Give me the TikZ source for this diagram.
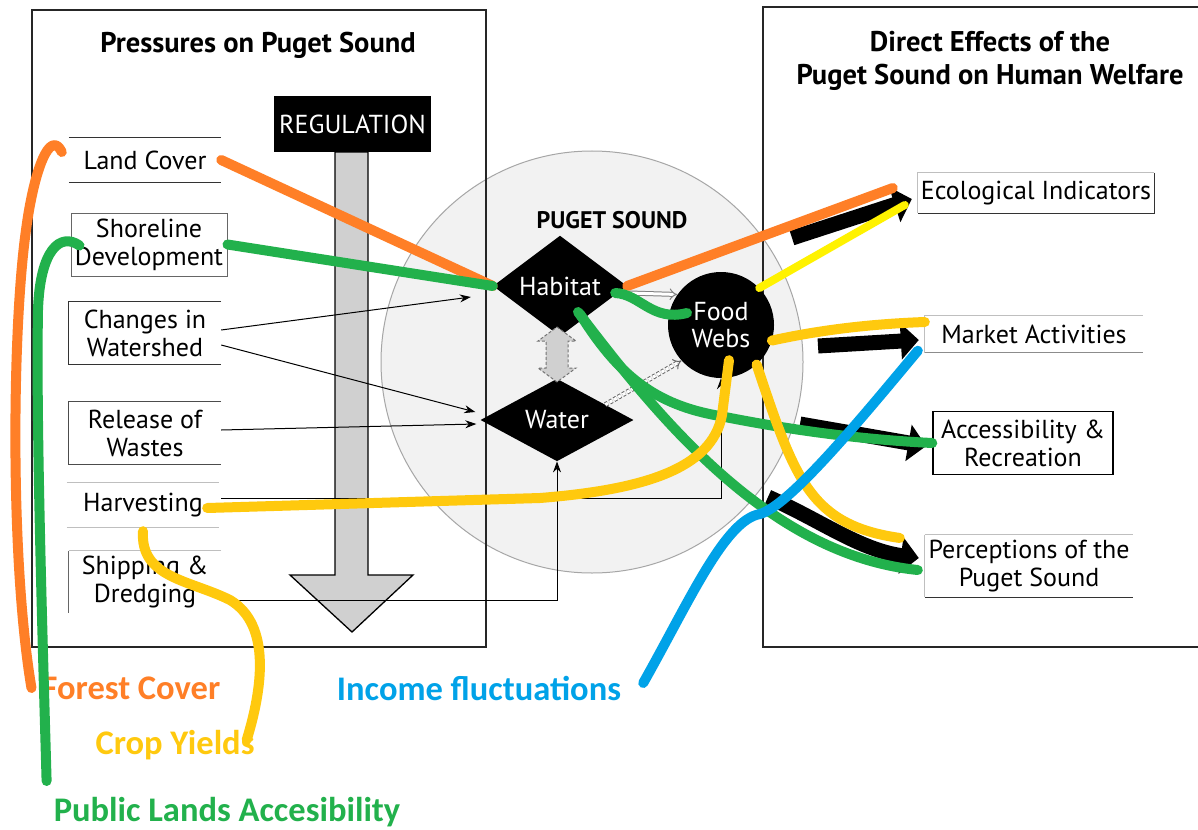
\documentclass[tikz,border=0pt]{standalone}
\usepackage{fontspec}
\setmainfont{PT Sans}
\newfontfamily\annfont{Carlito}
\usetikzlibrary{shapes.geometric,arrows.meta,calc}
\definecolor{mkorange}{RGB}{255,127,39}
\definecolor{mkgreen}{RGB}{34,177,76}
\definecolor{mkgold}{RGB}{255,201,14}
\definecolor{mkyellow}{RGB}{255,242,0}
\definecolor{mkblue}{RGB}{0,162,232}
\definecolor{soundfill}{RGB}{242,242,242}
\definecolor{regfill}{RGB}{208,208,208}
\begin{document}
\begin{tikzpicture}[x=1pt,y=-1pt,
  every node/.style={inner sep=0pt, align=center},
  txt/.style={font=\fontsize{26}{28}\selectfont},
  ttl/.style={font=\fontsize{28.5}{33}\selectfont\bfseries},
  ln/.style={draw=black!80, line width=1pt},
  lnf/.style={draw=black!25, line width=1pt},
  darkshape/.style={fill=black, text=white, txt},
  arr/.style={draw=black, line width=1pt, -{Stealth[length=11pt,width=8pt]}},
  bigarr/.style={draw=black, line width=15pt, -{Triangle[length=18pt,width=36pt]}},
  hl/.style={line width=10pt, line cap=round, line join=round},
  ann/.style={font=\annfont\bfseries\fontsize{34.5}{36}\selectfont},
]
\useasboundingbox (0,0) rectangle (1198,829);
\fill[white] (0,0) rectangle (1198,829);

% Puget Sound disc
\fill[soundfill] (592,362) circle[radius=211];
\draw[black!35, line width=1pt] (592,362) circle[radius=211];

% frames
\draw[black!85, line width=1.5pt] (32,10) rectangle (486,647);
\draw[black!85, line width=1.5pt] (1200,7) -- (763,7) -- (763,647) -- (1200,647);

% titles
\node[ttl] (ptitle) at (258,45) {Pressures on Puget Sound};
\node[ttl] (dtitle) at (990,61) {Direct Effects of the\\Puget Sound on Human Welfare};
\node[font=\fontsize{24}{26}\selectfont\bfseries] (pst) at (612,220) {PUGET SOUND};

% regulation arrow
\draw[black, line width=1.3pt, fill=regfill]
  (335,152) -- (335,575) -- (290,575) -- (352,632) -- (413,575) -- (368,575) -- (368,152) -- cycle;
\node[darkshape, minimum width=157pt, minimum height=56pt] (reg) at (352.5,124) {REGULATION};

% pressure items
\node[txt, minimum width=152pt, minimum height=45pt] (lc) at (145,160) {Land Cover};
\draw[ln] (lc.north west) -- (lc.north east) (lc.south west) -- (lc.south east);
\node[txt, draw=black!60, line width=1pt, minimum width=156pt, minimum height=63pt] (sd) at (149,244.5) {Shoreline\\Development};
\node[txt, minimum width=152pt, minimum height=62pt] (cw) at (145,333) {Changes in\\Watershed};
\draw[ln] (cw.north east) -- (cw.north west) -- (cw.south west) -- (cw.south east);
\node[txt, minimum width=152pt, minimum height=62pt] (rw) at (145,433) {Release of\\Wastes};
\draw[ln, draw=black!70] (rw.north east) -- (rw.north west) -- (rw.south west) -- (rw.south east);
\node[txt, minimum width=152pt, minimum height=44pt] (hv) at (143,505) {Harvesting};
\draw[lnf] (hv.north west) -- (hv.north east) (hv.south west) -- (hv.south east);
\node[txt, minimum width=152pt, minimum height=62pt] (sh) at (145,582) {Shipping \&\\Dredging};
\draw[lnf] (sh.north east) -- (sh.north west);
\draw[ln, draw=black!60] (sh.north west) -- (sh.south west);

% Puget Sound components
\node[darkshape, diamond, minimum width=134pt, minimum height=76pt] (hab) at (560,286) {Habitat};
\node[darkshape, diamond, minimum width=153pt, minimum height=75pt] (wat) at (557,420) {Water};
\node[darkshape, circle, minimum size=106pt, font=\fontsize{26}{27}\selectfont] (fw) at (721,325) {Food\\Webs};

% habitat <-> water double arrow
\draw[black!55, line width=1pt, densely dashed, fill=regfill]
  (557,327) -- (576,341) -- (568,341) -- (568,368) -- (576,368) -- (557,382)
  -- (538,368) -- (546,368) -- (546,341) -- (538,341) -- cycle;

% hollow arrows into food webs
\draw[black!50, line width=1pt, double=white, double distance=3pt, -{Implies}] ($(hab.east)+(2,7)$) -- (fw.145);
\draw[black!60, line width=1pt, densely dashed, double=white, double distance=3pt, -{Implies}] ($(wat.north)!0.63!(wat.east)$) -- (fw.222);

% pressure connectors
\draw[arr] ($(cw.east)+(0,-3)$) -- ($(hab.west)+(-22,11)$);
\draw[arr] ($(cw.east)+(0,12)$) -- ($(wat.west)+(-5,-8)$);
\draw[arr] ($(rw.east)+(0,-3)$) -- ($(wat.west)+(-4,4)$);
\draw[arr] ($(hv.east)+(2,-7)$) -| (fw.south);
\draw[arr] ($(sh.east)+(0,18)$) -| (wat.south);

% human welfare items
\node[txt, minimum width=236pt, minimum height=40pt] (ei) at (1036,193) {Ecological Indicators};
\draw[lnf] (ei.south west) -- (ei.north west) -- (ei.north east);
\draw[ln] (ei.north east) -- (ei.south east) -- (ei.south west);
\node[txt, minimum width=218pt, minimum height=37pt] (ma) at (1034,334) {Market Activities};
\draw[lnf] (ma.north west) -- (ma.north east) (ma.north west) -- (ma.south west);
\draw[ln, draw=black!45] (ma.south west) -- (ma.south east);
\node[txt, draw=black, line width=1.5pt, minimum width=180pt, minimum height=63pt] (ar) at (1023,443) {Accessibility \&\\Recreation};
\node[txt, minimum width=208pt, minimum height=62pt] (pp) at (1029,566) {Perceptions of the\\Puget Sound};
\draw[lnf] (pp.north west) -- (pp.north east) (pp.north west) -- (pp.south west);
\draw[ln] (pp.south west) -- (pp.south east);

% direct effects arrows
\draw[bigarr] (792,238) -- ($(ei.west)+(-6,6)$);
\draw[bigarr] (818,346) -- ($(ma.west)+(-6,6)$);
\draw[bigarr] (800,424) -- ($(ar.west)+(-6,3)$);
\draw[bigarr] (768,497) .. controls (820,520) and (860,550) .. ($(pp.west)+(-6,-8)$);

% annotation labels
\node[ann, text=mkorange] (forest) at (131,688) {Forest Cover};
\node[ann, text=mkgold] (crop) at (175,745) {Crop Yields};
\node[ann, text=mkgreen] (public) at (227,812) {Public Lands Accesibility};
\node[ann, text=mkblue] (income) at (479,688) {Income fluctuations};

% highlighted links
\draw[hl, mkorange] ($(forest.west)+(-10,0)$) .. controls (10,560) and (12,330) .. (26,230)
  .. controls (34,170) and (50,128) .. ($(lc.west)+(-7,-8)$);
\draw[hl, mkorange] (lc.east) -- (hab.west);
\draw[hl, mkorange] (hab.east) -- ($(ei.west)+(-25,-5)$);

\draw[hl, mkgreen] ($(public.north west)+(-7,-16)$) .. controls (42,620) and (36,420) .. (38,310)
  .. controls (40,250) and (60,232) .. ($(sd.west)+(9,1)$);
\draw[hl, mkgreen] (sd.east) -- (hab.west);
\draw[hl, mkgreen] ($(hab.east)+(-12,7)$) .. controls (640,294) and (652,322) .. ($(fw.center)+(-34,-12)$);
\draw[hl, mkgreen] ($(hab.center)+(18,26)$) .. controls (660,420) and (770,555) .. ($(pp.west)+(-7,4)$);
\draw[hl, mkgreen] ($(hab.center)+(20,28)$) .. controls (618,375) and (655,405) .. (720,416)
  .. controls (800,432) and (870,440) .. (ar.west);

\draw[hl, mkyellow, line width=8pt] (fw.44) -- ($(ei.west)+(-13,12)$);

\draw[hl, mkgold] ($(hv.east)+(-12,3)$) -- (540,498) .. controls (640,490) and (712,470) .. (722,415) -- ($(fw.south)+(8,-18)$);
\draw[hl, mkgold] ($(hv.south)+(0,4)$) .. controls (140,578) and (190,580) .. (230,600)
  .. controls (272,625) and (262,690) .. ($(crop.east)+(-8,-5)$);
\draw[hl, mkgold] (fw.-17) .. controls (820,330) and (870,324) .. ($(ma.west)+(0,-12)$);
\draw[hl, mkgold] (fw.-48) .. controls (795,480) and (810,525) .. ($(pp.west)+(-25,-28)$);

\draw[hl, mkblue] ($(income.east)+(22,-5)$) .. controls (690,600) and (725,520) .. (760,514)
  .. controls (790,505) and (860,420) .. ($(ma.south west)+(-7,-2)$);
\end{tikzpicture}
\end{document}
